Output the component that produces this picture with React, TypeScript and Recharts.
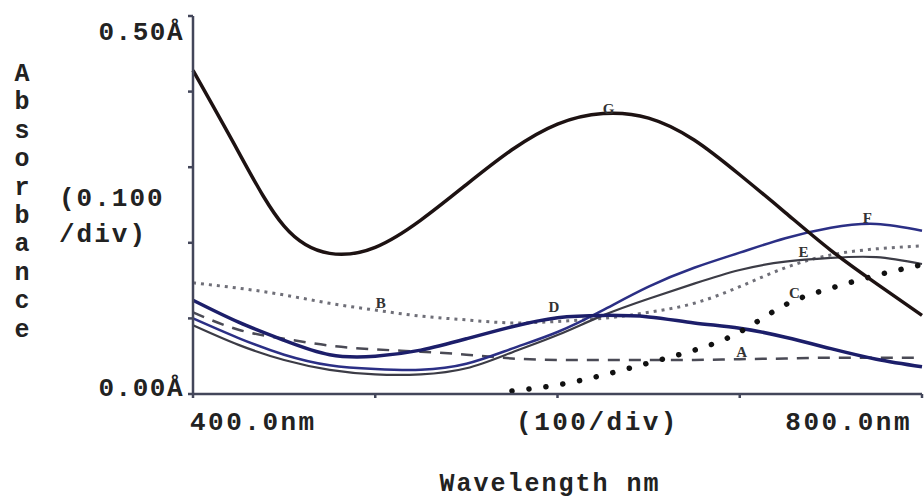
import { LineChart, Line, XAxis, YAxis, ReferenceDot } from 'recharts';

// wavelength grid (nm) and absorbance readings for each sample
const WAVELENGTHS = [400, 425, 450, 475, 500, 525, 550, 575, 600, 625, 650, 675, 700, 725, 750, 775, 800];
const SAMPLE_A = [0.108, 0.085, 0.073, 0.064, 0.059, 0.056, 0.052, 0.047, 0.045, 0.045, 0.045, 0.045, 0.046, 0.047, 0.048, 0.048, 0.048];
const SAMPLE_B = [0.147, 0.140, 0.131, 0.120, 0.111, 0.103, 0.098, 0.094, 0.096, 0.100, 0.108, 0.120, 0.142, 0.167, 0.184, 0.192, 0.196];
const SAMPLE_C = [null, null, null, null, null, null, null, 0.004, 0.012, 0.025, 0.041, 0.058, 0.082, 0.118, 0.140, 0.157, 0.171];
const SAMPLE_D = [0.124, 0.095, 0.071, 0.052, 0.050, 0.058, 0.073, 0.089, 0.101, 0.104, 0.102, 0.094, 0.087, 0.075, 0.060, 0.046, 0.036];
const SAMPLE_E = [0.091, 0.065, 0.045, 0.032, 0.026, 0.026, 0.034, 0.055, 0.078, 0.104, 0.126, 0.146, 0.164, 0.175, 0.180, 0.181, 0.172];
const SAMPLE_F = [0.100, 0.074, 0.052, 0.038, 0.033, 0.032, 0.040, 0.060, 0.082, 0.111, 0.142, 0.167, 0.187, 0.206, 0.220, 0.225, 0.216];
const SAMPLE_G = [0.428, 0.320, 0.222, 0.186, 0.194, 0.230, 0.277, 0.323, 0.357, 0.371, 0.365, 0.336, 0.290, 0.240, 0.190, 0.146, 0.104];

const X_TICKS = [400, 500, 600, 700, 800];
const Y_TICKS = [0, 0.1, 0.2, 0.3, 0.4, 0.5];

// curve letters: [name, wavelength, absorbance]
const CURVE_TAGS: [string, number, number][] = [
  ['G', 628, 0.378],
  ['B', 503, 0.121],
  ['D', 598, 0.115],
  ['F', 770, 0.233],
  ['E', 735, 0.188],
  ['C', 730, 0.134],
  ['A', 701, 0.056],
];

const data = WAVELENGTHS.map((nm, i) => ({
  nm,
  A: SAMPLE_A[i],
  B: SAMPLE_B[i],
  C: SAMPLE_C[i],
  D: SAMPLE_D[i],
  E: SAMPLE_E[i],
  F: SAMPLE_F[i],
  G: SAMPLE_G[i],
}));

const MONO = '"Liberation Mono", "Courier New", monospace';
const FRAME = '#43465a';
const TEXT = '#222';

function WavelengthTick({ x, y, payload }: any) {
  const v = payload.value;
  let text = '';
  let anchor: 'start' | 'middle' | 'end' = 'middle';
  let dx = 0;
  if (v === 400) { text = '400.0nm'; anchor = 'start'; dx = -3; }
  if (v === 600) { text = '(100/div)'; dx = 40; }
  if (v === 800) { text = '800.0nm'; anchor = 'end'; }
  if (!text) return null;
  return (
    <text x={x + dx} y={y + 30} textAnchor={anchor} fill={TEXT} fontFamily={MONO}
      fontWeight={700} fontSize={26} letterSpacing={2.5}>
      {text}
    </text>
  );
}

function AbsorbanceTick({ x, y, payload }: any) {
  const v = payload.value;
  if (v !== 0 && v !== 0.5) return null;
  return (
    <text x={x - 2} y={v === 0.5 ? y + 24 : y + 2} textAnchor="end" fill={TEXT} fontFamily={MONO}
      fontWeight={700} fontSize={26} letterSpacing={1.5}>
      {v === 0.5 ? '0.50Å' : '0.00Å'}
    </text>
  );
}

function AbsorbanceTitle() {
  const letters = 'Absorbance'.split('');
  return (
    <g fill={TEXT} fontFamily={MONO} fontWeight={700}>
      {letters.map((ch, i) => (
        <text key={i} x={22} y={81 + 28.4 * i} textAnchor="middle" fontSize={25}>{ch}</text>
      ))}
      <text x={59} y={206} fontSize={26} letterSpacing={2}>(0.100</text>
      <text x={59} y={242} fontSize={26} letterSpacing={2}>/div)</text>
    </g>
  );
}

function WavelengthTitle() {
  return (
    <text x={550} y={491} textAnchor="middle" fill={TEXT} fontFamily={MONO}
      fontWeight={700} fontSize={25} letterSpacing={2}>
      Wavelength nm
    </text>
  );
}

export default function App() {
  return (
    <div style={{ position: 'absolute', left: 0, top: 0, width: 924, height: 501, background: '#fff' }}>
      <LineChart width={924} height={501} data={data} margin={{ top: 16, right: 2, bottom: 47, left: 93 }}>
        <XAxis dataKey="nm" type="number" domain={[400, 800]} ticks={X_TICKS} height={60}
          stroke={FRAME} strokeWidth={2.5} tickSize={4} tick={<WavelengthTick />}
          label={<WavelengthTitle />} />
        <XAxis xAxisId="top" orientation="top" dataKey="nm" type="number" domain={[400, 800]} ticks={X_TICKS}
          height={0} stroke={FRAME} strokeWidth={2.5} tickSize={4} tick={false} />
        <YAxis type="number" domain={[0, 0.5]} ticks={Y_TICKS} width={100}
          stroke={FRAME} strokeWidth={2.5} tickSize={5} tick={<AbsorbanceTick />}
          label={<AbsorbanceTitle />} />
        <YAxis yAxisId="right" orientation="right" type="number" domain={[0, 0.5]} ticks={Y_TICKS} width={0}
          stroke={FRAME} strokeWidth={2.5} tickSize={4} tick={false} mirror />

        <Line dataKey="A" type="natural" stroke="#4a4a55" strokeWidth={2.5} strokeDasharray="12 9" dot={false} isAnimationActive={false} />
        <Line dataKey="B" type="natural" stroke="#6f6f78" strokeWidth={3} strokeDasharray="3 5" dot={false} isAnimationActive={false} />
        <Line dataKey="E" type="natural" stroke="#3c3c46" strokeWidth={2.2} dot={false} isAnimationActive={false} />
        <Line dataKey="F" type="natural" stroke="#2b2f85" strokeWidth={2.5} dot={false} isAnimationActive={false} />
        <Line dataKey="D" type="natural" stroke="#1c1e6a" strokeWidth={3.5} dot={false} isAnimationActive={false} />
        <Line dataKey="C" type="natural" stroke="#111" strokeWidth={5.5} strokeLinecap="round" strokeDasharray="0.1 17" dot={false} connectNulls={false} isAnimationActive={false} />
        <Line dataKey="G" type="natural" stroke="#1d1212" strokeWidth={3.5} dot={false} isAnimationActive={false} />

        {CURVE_TAGS.map(([name, nm, v]) => (
          <ReferenceDot key={name} x={nm} y={v} r={0} stroke="none"
            label={{ value: name, position: 'center', fill: '#333', fontSize: 15, fontWeight: 700, fontFamily: '"Liberation Serif", serif' }} />
        ))}
      </LineChart>
    </div>
  );
}
